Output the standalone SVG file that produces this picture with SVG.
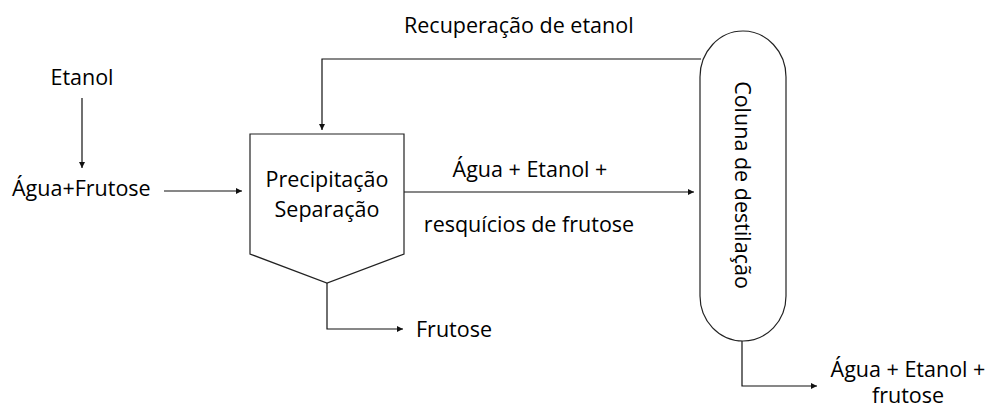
<svg xmlns="http://www.w3.org/2000/svg" width="992" height="407" viewBox="0 0 992 407">
<defs>
<style>
text{font-family:"Open Sans","Noto Sans","DejaVu Sans",sans-serif;font-size:21.5px;fill:#000}
.shape{fill:#fff;stroke:#222;stroke-width:1.2}
.conn{fill:none;stroke:#111;stroke-width:1.2;marker-end:url(#ah)}
</style>
<marker id="ah" viewBox="0 0 10 10" refX="10" refY="5" markerWidth="8" markerHeight="6" markerUnits="userSpaceOnUse" orient="auto">
<path d="M0,0 L10,5 L0,10 z" fill="#111"/>
</marker>
</defs>
<rect width="992" height="407" fill="#fff"/>
<g id="connectors">
<path class="conn" d="M82,98 V168"/>
<path class="conn" d="M164,191 H242"/>
<path class="conn" d="M701,59 H322 V130"/>
<path class="conn" d="M404,192 H694"/>
<path class="conn" d="M327,283 V329 H403"/>
<path class="conn" d="M742,341 V386 H817"/>
</g>
<g id="etanol"><text x="82" y="85" text-anchor="middle">Etanol</text></g>
<g id="agua-frutose"><text x="12" y="196">Água+Frutose</text></g>
<g id="precipitacao">
<path class="shape" d="M250,134 H404 V254 L327,283 L250,254 Z"/>
<text x="327" y="187" text-anchor="middle">Precipitação</text>
<text x="327" y="217" text-anchor="middle">Separação</text>
</g>
<g id="coluna">
<path class="shape" d="M700,77 A43,46 0 0 1 786,77 V296 A43,45 0 0 1 700,296 Z"/>
<text transform="translate(743,185) rotate(90)" text-anchor="middle" dominant-baseline="central">Coluna de destilação</text>
</g>
<g id="labels">
<text x="404" y="33">Recuperação de etanol</text>
<text x="530" y="177" text-anchor="middle">Água + Etanol +</text>
<text x="529" y="232" text-anchor="middle">resquícios de frutose</text>
<text x="416" y="337">Frutose</text>
<text x="908" y="377" text-anchor="middle">Água + Etanol +</text>
<text x="908" y="403" text-anchor="middle">frutose</text>
</g>
</svg>
